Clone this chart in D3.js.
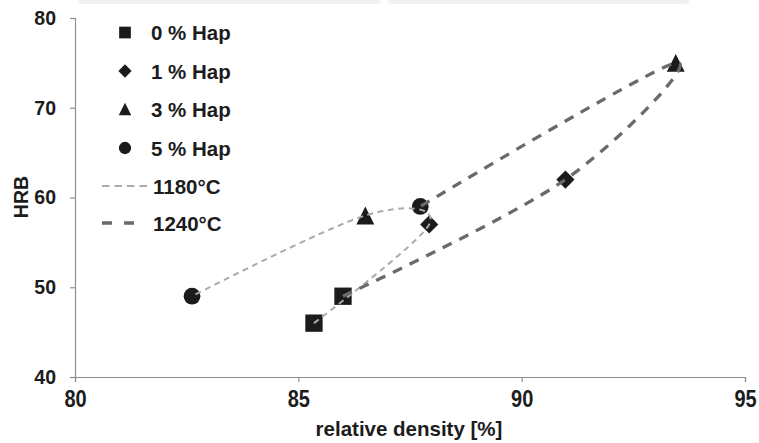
<!DOCTYPE html>
<html>
<head>
<meta charset="utf-8">
<script src="https://cdn.jsdelivr.net/npm/d3@7"></script>
<style>
body { margin: 0; background: #fff; }
text { font-family: "Liberation Sans", Arial, sans-serif; font-weight: bold; fill: #1c1c1c; }
</style>
</head>
<body>
<svg width="759" height="443"></svg>
<script>
// series: one point per Hap content, per sintering temperature
var hapLabels = ["0 % Hap", "1 % Hap", "3 % Hap", "5 % Hap"];
var hapShapes = ["square", "diamond", "triangle", "circle"];
var density1180 = [85.35, 87.93, 86.5, 82.62];
var hrb1180 = [46, 57, 58, 49];
var density1240 = [86.0, 90.98, 93.45, 87.73];
var hrb1240 = [49, 62, 75, 59];
var tempLabels = ["1180°C", "1240°C"];

var xTicks = [80, 85, 90, 95];
var yTicks = [40, 50, 60, 70, 80];

var svg = d3.select("svg"),
    width = 759,
    height = 443;

var x = d3.scaleLinear().domain([80, 95]).range([75, 745]);
var y = d3.scaleLinear().domain([40, 80]).range([377, 18]);

// faint bands at the top edge (cropped figure frame)
svg.append("path")
    .attr("d", "M78,0 H381 V1 Q381,4 377,4 H82 Q78,4 78,1 Z M388,0 H689 V1 Q689,4 685,4 H392 Q388,4 388,1 Z")
    .attr("fill", "#f1f1f1");

// axes
var xAxis = svg.append("g")
    .attr("transform", "translate(0," + y(40) + ")")
    .call(d3.axisBottom(x).tickValues(xTicks).tickSize(5).tickFormat(d3.format("d")));
var yAxis = svg.append("g")
    .attr("transform", "translate(" + x(80) + ",0)")
    .call(d3.axisLeft(y).tickValues(yTicks).tickSize(5).tickPadding(14).tickFormat(d3.format("d")));

[xAxis, yAxis].forEach(function (a) {
    a.select(".domain").attr("stroke", "#8f8f8f").attr("stroke-width", 1.2);
    a.selectAll(".tick line").attr("stroke", "#8f8f8f").attr("stroke-width", 1.2);
    a.selectAll(".tick text")
        .attr("font-family", "Liberation Sans, Arial, sans-serif")
        .attr("font-weight", "bold")
        .attr("font-size", 19.5)
        .attr("fill", "#1c1c1c");
});
// x tick labels are a little taller than wide in the original
xAxis.selectAll(".tick text")
    .attr("font-size", 20)
    .attr("dy", 0)
    .attr("y", 30.3 / 1.16)
    .attr("transform", "scale(1,1.16)");

svg.append("text")
    .attr("x", 409).attr("y", 436)
    .attr("text-anchor", "middle")
    .attr("font-size", 20.5)
    .text("relative density [%]");

svg.append("text")
    .attr("transform", "translate(28,197) rotate(-90)")
    .attr("text-anchor", "middle")
    .attr("font-size", 19.5)
    .text("HRB");

// Excel style triangle: as tall as wide, centred on its box
var boxTriangle = {
    draw: function (context, size) {
        var s = Math.sqrt(size);
        context.moveTo(0, -s / 2);
        context.lineTo(s / 2, s / 2);
        context.lineTo(-s / 2, s / 2);
        context.closePath();
    }
};

function symbolFor(shape, big) {
    var s = {
        square: [d3.symbolSquare, big ? 300 : 137],
        diamond: [d3.symbolSquare, big ? 165 : 88],
        triangle: [boxTriangle, big ? 320 : 156],
        circle: [d3.symbolCircle, big ? 220 : 119]
    }[shape];
    return d3.symbol().type(s[0]).size(s[1])();
}
function rot(shape) { return shape === "diamond" ? " rotate(45)" : ""; }

// markers
var pts = [];
hapShapes.forEach(function (sh, i) {
    pts.push({ x: density1180[i], y: hrb1180[i], shape: sh });
    pts.push({ x: density1240[i], y: hrb1240[i], shape: sh });
});

svg.append("g").selectAll("path")
    .data(pts)
    .join("path")
    .attr("transform", function (d) {
        return "translate(" + x(d.x) + "," + y(d.y) + ")" + rot(d.shape);
    })
    .attr("d", function (d) { return symbolFor(d.shape, true); })
    .attr("fill", "#1b1b1b");

// smoothed lines
var line = d3.line()
    .x(function (d) { return x(d[0]); })
    .y(function (d) { return y(d[1]); })
    .curve(d3.curveCardinal.tension(0));

var l1180 = d3.zip(density1180, hrb1180);
var l1240 = d3.zip(density1240, hrb1240);

svg.append("path")
    .attr("d", line(l1180))
    .attr("fill", "none")
    .attr("stroke", "#ababab")
    .attr("stroke-width", 2)
    .attr("stroke-dasharray", "6,4.5");

svg.append("path")
    .attr("d", line(l1240))
    .attr("fill", "none")
    .attr("stroke", "#6a6a6a")
    .attr("stroke-width", 3.3)
    .attr("stroke-dasharray", "10,8.5");

// legend
var legY = [32.5, 71, 109, 148, 186, 223];
var leg = svg.append("g");
hapLabels.forEach(function (lab, i) {
    leg.append("path")
        .attr("transform", "translate(125," + legY[i] + ")" + rot(hapShapes[i]))
        .attr("d", symbolFor(hapShapes[i], false))
        .attr("fill", "#1b1b1b");
    leg.append("text")
        .attr("x", 151).attr("y", legY[i] + 7.5)
        .attr("font-size", 20.5)
        .text(lab);
});
leg.append("line")
    .attr("x1", 102).attr("x2", 150)
    .attr("y1", legY[4]).attr("y2", legY[4])
    .attr("stroke", "#ababab").attr("stroke-width", 2)
    .attr("stroke-dasharray", "7.5,5");
leg.append("line")
    .attr("x1", 102).attr("x2", 136)
    .attr("y1", legY[5]).attr("y2", legY[5])
    .attr("stroke", "#6a6a6a").attr("stroke-width", 3.3)
    .attr("stroke-dasharray", "10,12");
tempLabels.forEach(function (lab, i) {
    leg.append("text")
        .attr("x", 153).attr("y", legY[4 + i] + 8)
        .attr("font-size", 20.5)
        .text(lab);
});
</script>
</body>
</html>
